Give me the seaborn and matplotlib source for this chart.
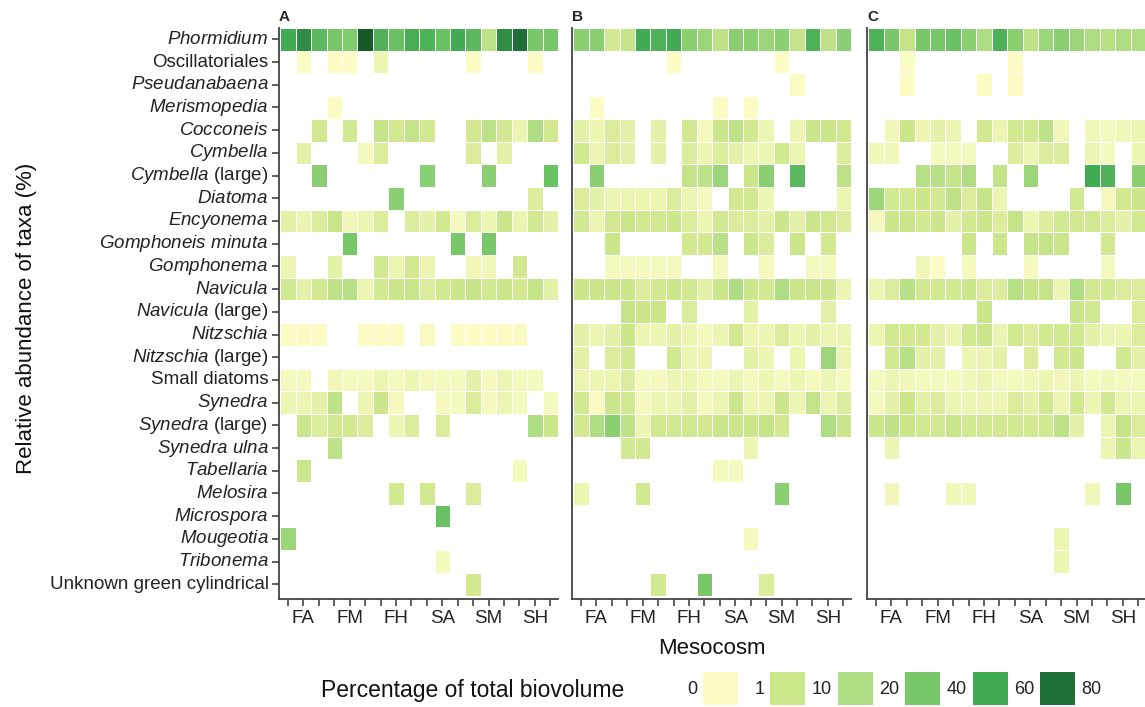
import numpy as np
import pandas as pd
import seaborn as sns
import matplotlib.pyplot as plt
from matplotlib import colors
from matplotlib.patches import Rectangle

NA = np.nan

taxa = ['Phormidium', 'Oscillatoriales', 'Pseudanabaena', 'Merismopedia', 'Cocconeis',
        'Cymbella', 'Cymbella (large)', 'Diatoma', 'Encyonema', 'Gomphoneis minuta',
        'Gomphonema', 'Navicula', 'Navicula (large)', 'Nitzschia', 'Nitzschia (large)',
        'Small diatoms', 'Synedra', 'Synedra (large)', 'Synedra ulna', 'Tabellaria',
        'Melosira', 'Microspora', 'Mougeotia', 'Tribonema', 'Unknown green cylindrical']
not_italic = ['Oscillatoriales', 'Small diatoms', 'Unknown green cylindrical']
treatments = ['FA', 'FM', 'FH', 'SA', 'SM', 'SH']
mesocosms = [t + str(r) for t in treatments for r in (1, 2, 3)]
panels = ['A', 'B', 'C']

# % of total biovolume, NA = taxon not found
biovol_A = [
    [50, 60, 40, 30, 28, 80, 45, 35, 48, 45, 35, 50, 40, 10, 60, 70, 30, 30],
    [NA, 0.5, NA, 0.5, 0.5, NA, 2, NA, NA, NA, NA, NA, 0.5, NA, NA, NA, 0.5, NA],
    [NA, NA, NA, NA, NA, NA, NA, NA, NA, NA, NA, NA, NA, NA, NA, NA, NA, NA],
    [NA, NA, NA, 0.5, NA, NA, NA, NA, NA, NA, NA, NA, NA, NA, NA, NA, NA, NA],
    [NA, NA, 5, NA, 5, NA, 8, 5, 8, 5, NA, NA, 5, 10, 5, 2, 15, 5],
    [NA, 3, NA, NA, NA, 1, 4, NA, NA, NA, NA, NA, 4, NA, 3, NA, NA, NA],
    [NA, NA, 25, NA, NA, NA, NA, NA, NA, 25, NA, NA, NA, 25, NA, NA, NA, 35],
    [NA, NA, NA, NA, NA, NA, NA, 25, NA, NA, NA, NA, NA, NA, NA, NA, 4, NA],
    [3, 2, 4, 7, 1.5, 2, 4, NA, 4, 3, 5, 1, 4, 2, 6, 2, 5, 3],
    [NA, NA, NA, NA, 30, NA, NA, NA, NA, NA, NA, 30, NA, 30, NA, NA, NA, NA],
    [2, NA, NA, 3, NA, NA, 5, 2, 5, 2, NA, NA, 1.5, 1.5, NA, 5, NA, NA],
    [5, 3, 5, 10, 12, 2, 5, 6, 7, 4, 5, 6, 8, 5, 6, 5, 8, 3],
    [NA, NA, NA, NA, NA, NA, NA, NA, NA, NA, NA, NA, NA, NA, NA, NA, NA, NA],
    [0.5, 0.5, 0.5, NA, NA, 0.5, 0.5, 0.5, NA, 0.8, NA, 0.5, 0.5, 0.5, 0.5, 0.8, NA, NA],
    [NA, NA, NA, NA, NA, NA, NA, NA, NA, NA, NA, NA, NA, NA, NA, NA, NA, NA],
    [1, 1, NA, 1.5, 1, 1, 2, 1, 2, 1, 1, 1, 3, 1, 2, 1, 1, NA],
    [2, 2, 3, 10, NA, 2, 6, 1, NA, NA, 1, 1, 4, 1, 2, 1, NA, 1],
    [NA, 6, 4, 5, 5, 4, NA, 2, 4, NA, 4, NA, NA, NA, NA, NA, 15, 6],
    [NA, NA, NA, 10, NA, NA, NA, NA, NA, NA, NA, NA, NA, NA, NA, NA, NA, NA],
    [NA, 6, NA, NA, NA, NA, NA, NA, NA, NA, NA, NA, NA, NA, NA, 1, NA, NA],
    [NA, NA, NA, NA, NA, NA, NA, 5, NA, 5, NA, NA, 4, NA, NA, NA, NA, NA],
    [NA, NA, NA, NA, NA, NA, NA, NA, NA, NA, 35, NA, NA, NA, NA, NA, NA, NA],
    [20, NA, NA, NA, NA, NA, NA, NA, NA, NA, NA, NA, NA, NA, NA, NA, NA, NA],
    [NA, NA, NA, NA, NA, NA, NA, NA, NA, NA, 1, NA, NA, NA, NA, NA, NA, NA],
    [NA, NA, NA, NA, NA, NA, NA, NA, NA, NA, NA, NA, 5, NA, NA, NA, NA, NA],
]

biovol_B = [
    [25, 25, 5, 8, 50, 45, 50, 25, 20, 10, 25, 25, 20, 25, 8, 45, 10, 25],
    [NA, NA, NA, NA, NA, NA, 0.5, NA, NA, NA, NA, NA, NA, 0.5, NA, NA, NA, NA],
    [NA, NA, NA, NA, NA, NA, NA, NA, NA, NA, NA, NA, NA, NA, 0.5, NA, NA, NA],
    [NA, 0.5, NA, NA, NA, NA, NA, NA, NA, 0.5, NA, 0.5, NA, NA, NA, NA, NA, NA],
    [3, 2, 4, 3, NA, 3, NA, 5, 1, 6, 10, 5, 2, NA, 2, 6, 6, 5],
    [5, 2, 4, 3, NA, 3, NA, 4, 2, 4, 3, 2, 2, 5, 2, NA, NA, 4],
    [NA, 25, NA, NA, NA, NA, NA, 8, 10, 20, NA, 6, 25, NA, 40, NA, NA, 10],
    [4, 3, 2, 2, 2, 2, 4, 2, 1, NA, 5, 5, 2, NA, NA, NA, NA, 2],
    [5, 2, 5, 6, 5, 5, 6, 4, 2, 5, 4, 4, 3, 6, 3, 6, 5, 4],
    [NA, NA, 6, NA, NA, NA, NA, 5, 5, 12, NA, 6, 4, NA, 6, NA, 5, NA],
    [NA, NA, 1, 1, 1, 1, 1, NA, NA, 1, NA, NA, 1, NA, NA, 1, 1, NA],
    [6, 6, 6, 6, 4, 5, 6, 5, 3, 6, 15, 6, 5, 15, 6, 6, 6, 2],
    [NA, NA, NA, 8, 6, 6, NA, 4, NA, NA, NA, 3, NA, NA, NA, NA, 3, NA],
    [3, 2, 3, 6, 2, 2, 3, 2, 1, 2, 5, 2, 2, 4, 2, 3, 2, 2],
    [3, NA, 4, 5, NA, NA, 5, 2, 2, NA, NA, 3, 2, NA, 2, NA, 20, 2],
    [2, 2, 2, 4, 1, 1, 2, 2, 1, 1, 2, 1, 2, 1, 2, 1, 2, 1],
    [5, 0.8, 6, 5, 1, 2, 2, 3, 1, 2, 6, 2, 2, 6, 2, 8, 2, 4],
    [5, 15, 25, 10, 2, 5, 5, 5, 5, 6, 6, 6, 8, 5, NA, NA, 15, 6],
    [NA, NA, NA, 5, 5, NA, NA, NA, NA, NA, NA, 2, NA, NA, NA, NA, NA, NA],
    [NA, NA, NA, NA, NA, NA, NA, NA, NA, 1, 1, NA, NA, NA, NA, NA, NA, NA],
    [2, NA, NA, NA, 5, NA, NA, NA, NA, NA, NA, NA, NA, 25, NA, NA, NA, NA],
    [NA, NA, NA, NA, NA, NA, NA, NA, NA, NA, NA, NA, NA, NA, NA, NA, NA, NA],
    [NA, NA, NA, NA, NA, NA, NA, NA, NA, NA, NA, 1, NA, NA, NA, NA, NA, NA],
    [NA, NA, NA, NA, NA, NA, NA, NA, NA, NA, NA, NA, NA, NA, NA, NA, NA, NA],
    [NA, NA, NA, NA, NA, 5, NA, NA, 30, NA, NA, NA, 4, NA, NA, NA, NA, NA],
]

biovol_C = [
    [45, 30, 8, 30, 30, 35, 25, 15, 45, 25, 10, 20, 25, 20, 15, 12, 15, 15],
    [NA, NA, 0.5, NA, NA, NA, NA, NA, NA, 0.5, NA, NA, NA, NA, NA, NA, NA, NA],
    [NA, NA, 0.5, NA, NA, NA, NA, 0.5, NA, 0.5, NA, NA, NA, NA, NA, NA, NA, NA],
    [NA, NA, NA, NA, NA, NA, NA, NA, NA, NA, NA, NA, NA, NA, NA, NA, NA, NA],
    [NA, 1.5, 6, 2, 3, 2, NA, 5, 2, 5, 5, 10, 1.5, NA, 1.5, 1, 1.5, 2],
    [1.5, 1.5, NA, NA, 1, 1, 1, NA, NA, 4, 2, 4, 4, NA, 2, 1, NA, 2],
    [NA, NA, NA, 12, 12, 8, 15, NA, 8, NA, 20, NA, NA, NA, 50, 45, NA, 25],
    [20, 5, 5, 6, 5, 10, 4, 8, 2, NA, NA, NA, NA, 5, NA, 1, 5, 6],
    [1, 6, 6, 5, 6, 3, 5, 6, 4, 8, 2, 4, 5, 5, 5, 4, 3, 5],
    [NA, NA, NA, NA, NA, NA, 6, NA, 6, NA, 8, 8, 6, NA, NA, 5, NA, NA],
    [NA, NA, NA, 1.5, 0.5, NA, 1, NA, NA, NA, 1, NA, NA, NA, NA, 1, NA, NA],
    [2, 4, 12, 5, 5, 5, 6, 4, 4, 12, 8, 8, 2, 15, 5, 5, 4, 4],
    [NA, NA, NA, NA, NA, NA, NA, 6, NA, NA, NA, NA, NA, 6, 5, NA, NA, 4],
    [2, 5, 5, 5, 3, 2, 5, 6, 2, 5, 4, 5, 5, 5, 3, 2, 2, 4],
    [NA, 5, 12, 3, 3, NA, 2, 2, 3, NA, 4, NA, 5, 6, NA, NA, 5, 3],
    [1, 2, 1.5, 1, 1, 1, 1.5, 2, 1, 1, 1.5, 2, 1.5, 2, 1, 1.5, 1, 1],
    [1, 3, 6, 3, 4, 2, 2, 2, 2, 4, 3, 5, 2, 5, 2, 5, 2, 2],
    [6, 10, 6, 5, 5, 7, 5, 5, 5, 5, 5, 5, 10, 3, NA, 2, 8, 4],
    [NA, 2, NA, NA, NA, NA, NA, NA, NA, NA, NA, NA, NA, NA, NA, 2, 6, 2],
    [NA, NA, NA, NA, NA, NA, NA, NA, NA, NA, NA, NA, NA, NA, NA, NA, NA, NA],
    [NA, 1.5, NA, NA, NA, 1.5, 1.5, NA, NA, NA, NA, NA, NA, NA, 1.5, NA, 30, NA],
    [NA, NA, NA, NA, NA, NA, NA, NA, NA, NA, NA, NA, NA, NA, NA, NA, NA, NA],
    [NA, NA, NA, NA, NA, NA, NA, NA, NA, NA, NA, NA, 2, NA, NA, NA, NA, NA],
    [NA, NA, NA, NA, NA, NA, NA, NA, NA, NA, NA, NA, 2, NA, NA, NA, NA, NA],
    [NA, NA, NA, NA, NA, NA, NA, NA, NA, NA, NA, NA, NA, NA, NA, NA, NA, NA],
]

# legend bins and their colours
breaks = [0, 1, 10, 20, 40, 60, 80]
bin_colors = ['#FBFBC4', '#CDE78B', '#AEDD83', '#78C86A', '#41AB54', '#1F7038']


def taxon_label(name):
    # italic genus names, plain for the rest / the "(large)" part
    if name in not_italic:
        return name
    if name.endswith(' (large)'):
        return r'$\mathit{' + name[:-8] + '}$ (large)'
    return r'$\mathit{' + name.replace(' ', r'\ ') + '}$'


sns.set_style('white')
plt.rcParams['font.family'] = ['Liberation Sans', 'DejaVu Sans']
plt.rcParams['mathtext.fontset'] = 'custom'
plt.rcParams['mathtext.rm'] = 'Liberation Sans'
plt.rcParams['mathtext.it'] = 'Liberation Sans:italic'

mids = [(a + b) / 2 for a, b in zip(breaks[:-1], breaks[1:])]
anchors = [(0, '#FFFFD4')] + [(m / 80, c) for m, c in zip(mids, bin_colors)] + [(1, '#175A2A')]
cmap = colors.LinearSegmentedColormap.from_list('biovol', anchors, N=4096)

W, H = 1145, 707
fig = plt.figure(figsize=(W / 100, H / 100), dpi=100)

axis_col = '#444444'
lefts = [279, 572, 867]
for i, (panel, data) in enumerate(zip(panels, [biovol_A, biovol_B, biovol_C])):
    df = pd.DataFrame(data, index=taxa, columns=mesocosms)
    ax = fig.add_axes([lefts[i] / W, 1 - 599 / H, 279 / W, 571 / H])
    sns.heatmap(df, ax=ax, cmap=cmap, vmin=0, vmax=80, cbar=False,
                linewidths=0.7, linecolor='white')
    ax.set_xlim(-0.08, 18)
    ax.set_ylim(25.15, 0)
    for s in ['left', 'bottom']:
        ax.spines[s].set_visible(True)
        ax.spines[s].set_color(axis_col)
        ax.spines[s].set_linewidth(1.3)
    ax.set_xticks(np.arange(len(mesocosms)) + 0.5)
    ax.set_xticklabels([m[:2] if m.endswith('2') else '' for m in mesocosms], rotation=0)
    ax.set_xlabel('')
    ax.set_ylabel('')
    ax.tick_params(axis='both', length=5, width=1.2, color=axis_col,
                   labelsize=13.5, labelcolor='#222222')
    ax.tick_params(axis='x', bottom=True, pad=3)
    if i == 0:
        ax.set_yticks(np.arange(len(taxa)) + 0.5)
        ax.set_yticklabels([taxon_label(t) for t in taxa], rotation=0)
        ax.tick_params(axis='y', left=True, pad=2.5)
    else:
        ax.tick_params(axis='y', left=False, labelleft=False)
    ax.set_title(panel, loc='left', fontweight='bold', fontsize=11, pad=5)

fig.text(712 / W, 1 - 648 / H, 'Mesocosm', ha='center', va='center', fontsize=16, color='#111111')
fig.text(27 / W, 1 - 318 / H, 'Relative abundance of taxa (%)', ha='center', va='center',
         rotation=90, fontsize=16, color='#111111')

# binned legend along the bottom
lax = fig.add_axes([0, 0, 1, 1])
lax.set_xlim(0, W)
lax.set_ylim(H, 0)
lax.axis('off')
lax.text(321, 690, 'Percentage of total biovolume', ha='left', va='center', fontsize=16.5, color='#111111')
for k, col in enumerate(bin_colors):
    x0 = 703 + 67.4 * k
    lax.add_patch(Rectangle((x0, 672), 35, 33, facecolor=col, edgecolor='none'))
    lax.text(x0 - 6, 689, str(breaks[k]), ha='right', va='center', fontsize=13, color='#222222')
lax.text(703 + 67.4 * 5 + 41, 689, str(breaks[-1]), ha='left', va='center', fontsize=13, color='#222222')

fig.savefig('out.png', dpi=100)
